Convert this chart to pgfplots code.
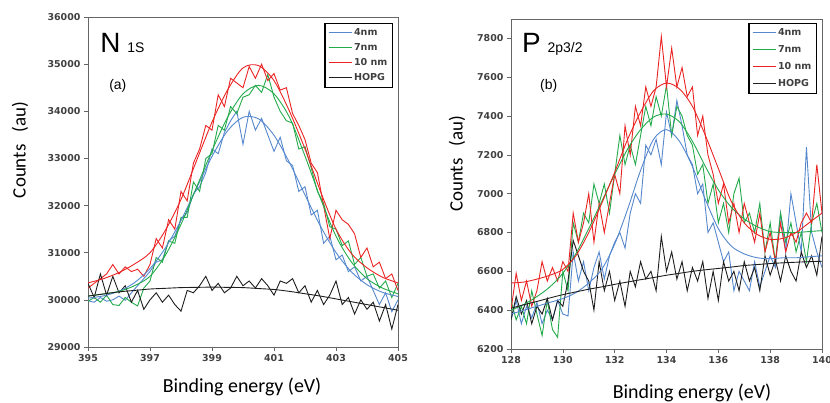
\documentclass[border=0pt]{standalone}
\usepackage{pgfplots}
\usepackage{pgfplotstable}
\pgfplotsset{compat=1.18}
\usepackage{fontspec}
\setmainfont{Carlito}
\newfontfamily\dejavu{DejaVu Sans}
\newfontfamily\arialf{Liberation Sans}
\definecolor{cb}{RGB}{85,135,205}
\definecolor{cg}{RGB}{35,170,75}
\definecolor{cr}{RGB}{235,35,35}
\definecolor{ck}{RGB}{30,30,30}

\pgfplotstableread{
E b g r k
395.0 29980 29970 30250 30350
395.2 29950 30050 30350 30050
395.4 30050 29950 30450 30550
395.6 29970 30100 30550 30100
395.8 30000 29900 30750 30500
396.0 30080 29880 30550 30150
396.2 29990 30050 30700 30300
396.4 30150 29950 30600 29950
396.6 30300 29870 30650 30200
396.8 30450 30250 30500 29800
397.0 30600 30400 30750 30000
397.2 30800 30900 31300 30150
397.4 30850 30800 31100 29950
397.6 31250 31250 31700 30100
397.8 31350 31200 31500 29900
398.0 31700 31750 32300 29760
398.2 31850 31750 32100 30200
398.4 32250 32500 32900 30150
398.6 32400 32300 33200 30300
398.8 32700 33000 33700 30500
399.0 33200 33100 33600 30200
399.2 33100 33700 34350 30350
399.4 33550 33600 34100 30150
399.6 33800 34100 34700 30250
399.8 34000 33950 34600 30500
400.0 33300 34300 34500 30300
400.2 34000 34350 34950 30400
400.4 33600 34550 34700 30250
400.6 33850 34400 35000 30450
400.8 33500 34780 34650 30300
401.0 33150 34300 34800 30100
401.2 33450 34000 34450 30400
401.4 32950 33800 34500 30350
401.6 32850 33750 33950 30450
401.8 32300 33200 33700 30150
402.0 32400 33250 33400 30300
402.2 31800 32800 32900 29950
402.4 31900 32300 32700 30200
402.6 31200 32050 32000 29900
402.8 31350 31550 31300 30100
403.0 30850 31500 31900 30400
403.2 30950 31150 31700 29900
403.4 30600 31250 31600 30050
403.6 30700 30750 31400 29700
403.8 30400 30900 30900 30000
404.0 30500 30500 31100 29800
404.2 30200 30550 30700 29950
404.4 29900 30250 30800 29550
404.6 30150 30400 30450 29900
404.8 29750 30050 30550 29380
405.0 30000 30350 30200 29900
}\noisyN

\pgfplotstableread{
E b g r k
395.0 30036 30080 30360 30080
395.5 30085 30125 30450 30125
396.0 30184 30180 30580 30170
396.5 30365 30300 30760 30200
397.0 30664 30500 31000 30230
397.5 31105 30950 31480 30245
398.0 31688 31600 32130 30260
398.5 32366 32386 32950 30265
399.0 33041 33163 33770 30270
399.5 33583 33870 34450 30265
400.0 33873 34370 34920 30260
400.5 33840 34550 34970 30240
401.0 33491 34370 34650 30220
401.5 32912 33870 34000 30180
402.0 32226 33050 33200 30130
402.5 31561 32150 32300 30080
403.0 31005 31350 31500 30020
403.5 30592 30800 30980 29960
404.0 30321 30450 30680 29900
404.5 30159 30250 30480 29840
405.0 30072 30130 30360 29780
}\fitN

\pgfplotstableread{
E b g r k
128.0 6350 6450 6400 6350
128.2 6450 6350 6590 6470
128.4 6330 6420 6450 6380
128.6 6420 6330 6550 6450
128.8 6360 6500 6420 6330
129.0 6440 6380 6500 6420
129.2 6330 6270 6650 6380
129.4 6400 6450 6550 6460
129.6 6350 6300 6620 6350
129.8 6450 6260 6550 6450
130.0 6380 6600 6650 6420
130.2 6370 6500 6600 6550
130.4 6700 6850 6900 6760
130.6 6550 6750 6750 6680
130.8 6650 6900 6850 6600
131.0 6500 6850 7000 6550
131.2 6620 7050 6750 6400
131.4 6700 6950 6950 6650
131.6 6560 7050 6800 6500
131.8 6680 6900 6950 6600
132.0 6750 7100 7100 6450
132.2 6800 7300 7000 6550
132.4 6720 7150 7350 6420
132.6 6900 7250 7200 6600
132.8 7000 7150 7450 6520
133.0 6950 7300 7350 6650
133.2 7250 7450 7550 6560
133.4 7200 7350 7450 6600
133.6 7280 7500 7550 6500
133.8 7150 7400 7810 6780
134.0 7420 7560 7550 6600
134.2 7300 7300 7750 6700
134.4 7480 7450 7550 6560
134.6 7350 7400 7650 6650
134.8 7200 7300 7500 6500
135.0 7150 7250 7550 6620
135.2 7000 7100 7300 6550
135.4 7050 7150 7400 6650
135.6 6800 6950 7200 6460
135.8 6850 7050 7100 6600
136.0 6750 6850 6950 6450
136.2 6650 6950 7050 6650
136.4 6700 6800 6850 6550
136.6 6500 7000 6950 6600
136.8 6600 7080 6800 6500
137.0 6550 6850 6950 6650
137.2 6500 6900 6850 6550
137.4 6650 6800 6750 6620
137.6 6520 6950 6900 6500
137.8 6600 6700 6700 6680
138.0 6680 6850 6800 6580
138.2 6620 6650 6650 6660
138.4 6900 6900 6850 6550
138.6 6700 6750 6700 6680
138.8 7000 6850 6800 6600
139.0 6850 6700 6750 6550
139.2 6700 6800 6850 6700
139.4 7240 6650 6900 6620
139.6 6800 6850 6850 6680
139.8 6700 6950 7150 6580
140.0 6620 6800 6900 6780
}\noisyP

\pgfplotstableread{
E b g r k
128.0 6380 6400 6540 6410
128.5 6400 6430 6545 6428
129.0 6420 6470 6560 6445
129.5 6440 6520 6580 6463
130.0 6460 6590 6610 6480
130.5 6490 6690 6680 6494
131.0 6540 6820 6800 6508
131.5 6610 6960 6950 6520
132.0 6740 7100 7110 6533
132.5 6920 7230 7280 6545
133.0 7120 7330 7420 6557
133.5 7280 7395 7530 6568
134.0 7330 7410 7570 6580
134.5 7270 7370 7540 6590
135.0 7140 7270 7450 6600
135.5 6970 7140 7300 6608
136.0 6820 7020 7130 6615
136.5 6730 6930 6960 6622
137.0 6690 6870 6850 6630
137.5 6670 6830 6790 6635
138.0 6665 6805 6765 6640
138.5 6670 6800 6770 6644
139.0 6670 6800 6800 6647
139.5 6675 6805 6850 6650
140.0 6680 6810 6900 6652
}\fitP

\pgfplotsset{
 xpsstyle/.style={
  scale only axis, anchor=south west, clip mode=individual,
  scaled y ticks=false, scaled x ticks=false,
  axis line style={black!60, line width=0.8pt},
  tick align=outside, xtick pos=bottom, ytick pos=left,
  major tick length=4bp, tick style={black!60, line width=0.6pt},
  /pgf/number format/assume math mode=true,
  /pgf/number format/set thousands separator={},
  ticklabel style={font=\dejavu\bfseries\fontsize{9.5}{10}\selectfont, text=black!75},
  legend style={draw=black, line width=1.2pt, fill=white,
    font=\dejavu\bfseries\fontsize{9.6}{11}\selectfont, text=black!75,
    anchor=north east, cells={anchor=west}, inner xsep=3bp, inner ysep=3bp},
  legend image code/.code={\draw[#1, line width=1pt] (0bp,0bp) -- (23bp,0bp);},
  every axis plot/.append style={line width=0.9pt},
 }
}

\begin{document}
\begin{tikzpicture}
\useasboundingbox (0,0) rectangle (830bp,403bp);

% ---------- panel (a) ----------
\begin{axis}[xpsstyle, at={(88bp,56bp)}, width=310bp, height=330bp,
  xmin=395, xmax=405, ymin=29000, ymax=36000,
  xtick={395,397,399,401,403,405},
  ytick={29000,30000,31000,32000,33000,34000,35000,36000},
  legend style={at={(rel axis cs:0.984,0.982)}, row sep=2.5bp}]
\addplot[cb] table[x=E,y=b]{\noisyN}; \addlegendentry{4nm}
\addplot[cg] table[x=E,y=g]{\noisyN}; \addlegendentry{7nm}
\addplot[cr] table[x=E,y=r]{\noisyN}; \addlegendentry{10 nm}
\addplot[ck] table[x=E,y=k]{\noisyN}; \addlegendentry{HOPG}
\addplot[cb, smooth, forget plot] table[x=E,y=b]{\fitN};
\addplot[cg, smooth, forget plot] table[x=E,y=g]{\fitN};
\addplot[cr, smooth, forget plot] table[x=E,y=r]{\fitN};
\addplot[ck, smooth, forget plot] table[x=E,y=k]{\fitN};
\node[anchor=base west, inner sep=0pt] at (rel axis cs:0.039,0.891)
  {\arialf\fontsize{28}{28}\selectfont N\hspace{7bp}\fontsize{14}{14}\selectfont 1S};
\node[anchor=base west, inner sep=0pt] at (rel axis cs:0.068,0.779)
  {\arialf\fontsize{14}{14}\selectfont (a)};
\node[rotate=90, inner sep=0pt] at (rel axis cs:-0.219,0.597)
  {\fontsize{19}{19}\selectfont Counts\hspace{12bp}(au)};
\node[inner sep=0pt] at (rel axis cs:0.497,-0.121)
  {\fontsize{20}{20}\selectfont Binding energy (eV)};
\end{axis}

% ---------- panel (b) ----------
\begin{axis}[xpsstyle, at={(511bp,54bp)}, width=311bp, height=330bp,
  xmin=128, xmax=140, ymin=6200, ymax=7900,
  xtick={128,130,132,134,136,138,140},
  ytick={6200,6400,6600,6800,7000,7200,7400,7600,7800},
  legend style={at={(rel axis cs:0.984,0.988)}, row sep=4.5bp}]
\addplot[cb] table[x=E,y=b]{\noisyP}; \addlegendentry{4nm}
\addplot[cg] table[x=E,y=g]{\noisyP}; \addlegendentry{7nm}
\addplot[cr] table[x=E,y=r]{\noisyP}; \addlegendentry{10 nm}
\addplot[ck] table[x=E,y=k]{\noisyP}; \addlegendentry{HOPG}
\addplot[cb, smooth, forget plot] table[x=E,y=b]{\fitP};
\addplot[cg, smooth, forget plot] table[x=E,y=g]{\fitP};
\addplot[cr, smooth, forget plot] table[x=E,y=r]{\fitP};
\addplot[ck, smooth, forget plot] table[x=E,y=k]{\fitP};
\node[anchor=base west, inner sep=0pt] at (rel axis cs:0.035,0.897)
  {\arialf\fontsize{28}{28}\selectfont P\hspace{7bp}\fontsize{14}{14}\selectfont 2p3/2};
\node[anchor=base west, inner sep=0pt] at (rel axis cs:0.093,0.785)
  {\arialf\fontsize{14}{14}\selectfont (b)};
\node[rotate=90, inner sep=0pt] at (rel axis cs:-0.174,0.561)
  {\fontsize{19}{19}\selectfont Counts\hspace{12bp}(au)};
\node[inner sep=0pt] at (rel axis cs:0.582,-0.133)
  {\fontsize{20}{20}\selectfont Binding energy (eV)};
\end{axis}
\end{tikzpicture}
\end{document}
